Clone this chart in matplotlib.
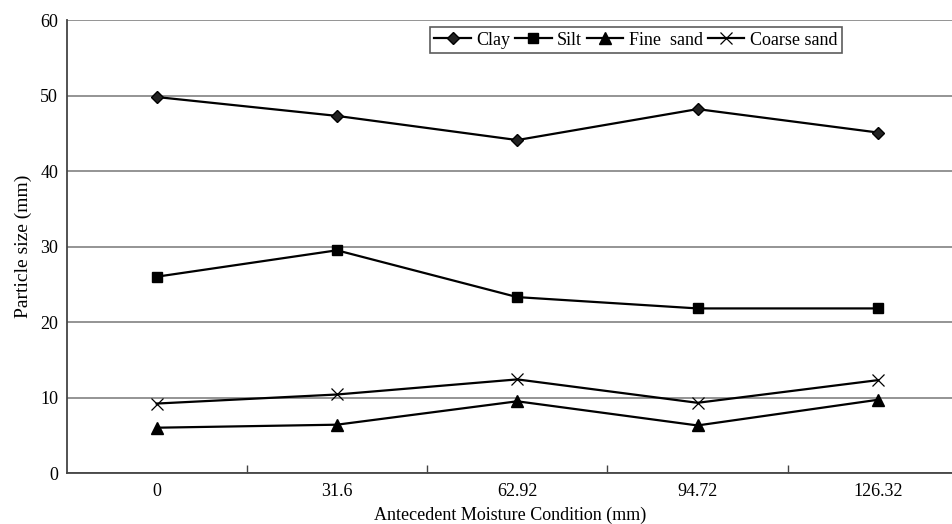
import matplotlib
matplotlib.use('Agg')

import matplotlib.pyplot as plt
from matplotlib.ticker import FixedLocator
import numpy as np

plt.rcParams['font.family'] = ['Liberation Serif', 'DejaVu Serif']

# data
categories = ['0', '31.6', '62.92', '94.72', '126.32']
clay = [49.8, 47.3, 44.1, 48.2, 45.1]
silt = [26.0, 29.5, 23.3, 21.8, 21.8]
fine_sand = [6.0, 6.4, 9.5, 6.3, 9.7]
coarse_sand = [9.2, 10.4, 12.4, 9.3, 12.3]

fig = plt.figure(figsize=(9.53, 5.24), dpi=100)
ax = fig.add_axes([0.0698, 0.0973, 0.9302, 0.8645])

x = np.arange(len(categories))
ax.plot(x, clay, '-', marker='D', color='black', markersize=6, linewidth=1.6,
        markerfacecolor='#222222', label='Clay', zorder=3)
ax.plot(x, silt, '-', marker='s', color='black', markersize=7.5, linewidth=1.6,
        label='Silt', zorder=3)
ax.plot(x, fine_sand, '-', marker='^', color='black', markersize=8, linewidth=1.6,
        label='Fine  sand', zorder=3)
ax.plot(x, coarse_sand, '-', marker='x', color='black', markersize=8, linewidth=1.6,
        markeredgewidth=0.9, label='Coarse sand', zorder=3)

ax.set_ylim(0, 60)
ax.set_yticks(np.arange(0, 61, 10))
ax.set_xlim(-0.5, 4.417)
ax.set_xticks(x)
ax.set_xticklabels(categories)
ax.xaxis.set_minor_locator(FixedLocator(np.arange(0.5, len(categories) - 0.5, 1.0)))

ax.tick_params(axis='x', which='major', length=0, labelsize=13, pad=7)
ax.tick_params(axis='x', which='minor', direction='in', length=6, width=1, color='#444444')
ax.tick_params(axis='y', length=0, labelsize=13, pad=6)

ax.grid(True, axis='y', color='#777777', linewidth=1.1)
ax.set_axisbelow(True)

for side in ['top', 'right']:
    ax.spines[side].set_visible(False)
for side in ['left', 'bottom']:
    ax.spines[side].set_color('#444444')
    ax.spines[side].set_linewidth(1.3)

ax.set_xlabel('Antecedent Moisture Condition (mm)', fontsize=13, labelpad=5)
ax.set_ylabel('Particle size (mm)', fontsize=14, labelpad=6)

leg = ax.legend(loc='upper left', bbox_to_anchor=(0.41, 0.9845), ncol=4,
                frameon=True, fancybox=False, fontsize=13, handlelength=2.0,
                handletextpad=0.3, columnspacing=0.3, borderpad=0.25,
                borderaxespad=0)
leg.get_frame().set_edgecolor('#333333')
leg.get_frame().set_linewidth(1.2)

plt.savefig('out.png', dpi=100)
